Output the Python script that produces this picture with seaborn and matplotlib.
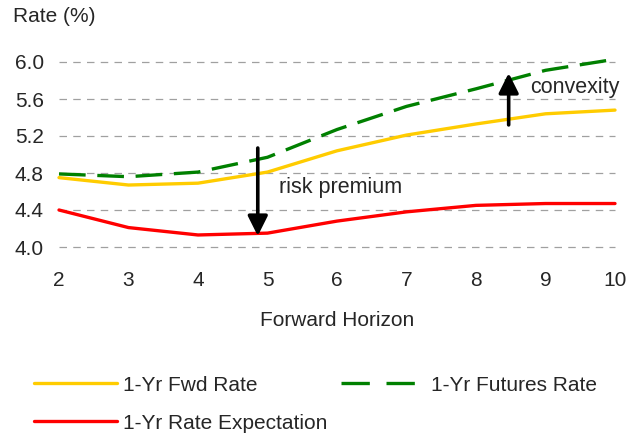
import matplotlib
matplotlib.use("Agg")
import matplotlib.pyplot as plt
import seaborn as sns
import pandas as pd

horizon = [2, 3, 4, 5, 6, 7, 8, 9, 10]
fwd_rate = [4.75, 4.67, 4.69, 4.81, 5.04, 5.21, 5.33, 5.44, 5.48]
futures_rate = [4.79, 4.76, 4.81, 4.97, 5.27, 5.52, 5.71, 5.91, 6.03]
expectation = [4.40, 4.21, 4.13, 4.15, 4.28, 4.38, 4.45, 4.47, 4.47]
y_ticks = [4.0, 4.4, 4.8, 5.2, 5.6, 6.0]

sns.set_style("white")
plt.rcParams['font.family'] = ['Liberation Sans', 'DejaVu Sans']
plt.rcParams['font.size'] = 15

df = pd.DataFrame({'Forward Horizon': horizon * 3,
                   'Rate': fwd_rate + futures_rate + expectation,
                   'Series': ['1-Yr Fwd Rate'] * 9 + ['1-Yr Futures Rate'] * 9 + ['1-Yr Rate Expectation'] * 9})

fig = plt.figure(figsize=(6.37, 4.36), dpi=100)
ax = fig.add_axes([59 / 637, 1 - 247 / 436, (615 - 59) / 637, (247 - 62) / 436])

palette = {'1-Yr Fwd Rate': '#FFCC00', '1-Yr Futures Rate': '#008000', '1-Yr Rate Expectation': '#FF0000'}
dashes = {'1-Yr Fwd Rate': '', '1-Yr Futures Rate': (8, 3.5), '1-Yr Rate Expectation': ''}
sns.lineplot(data=df, x='Forward Horizon', y='Rate', hue='Series', style='Series',
             palette=palette, dashes=dashes, linewidth=2.4, ax=ax, legend=False, clip_on=False, zorder=3)

ax.set_xlim(2, 10)
ax.set_ylim(4.0, 6.0)
ax.set_xticks(horizon)
ax.set_yticks(y_ticks)
ax.set_yticklabels([f'{v:.1f}' for v in y_ticks])
ax.tick_params(axis='x', length=0, labelsize=15, pad=17)
ax.tick_params(axis='y', length=0, labelsize=15, pad=11)
for s in ax.spines.values():
    s.set_visible(False)
for yv in y_ticks:
    ax.axhline(yv, color='#A0A0A0', lw=0.9, ls=(0, (6, 5)), zorder=1, clip_on=False)
ax.set_xlabel('Forward Horizon', fontsize=15)
ax.xaxis.set_label_coords(0.5, (247 - 320) / 185)
ax.xaxis.label.set_va('center')
ax.set_ylabel('')
fig.text(13 / 637, 1 - 17 / 436, 'Rate (%)', fontsize=15, va='center', ha='left')

# annotations
ax.annotate('', xy=(4.86, 4.12), xytext=(4.86, 5.07),
            arrowprops=dict(arrowstyle='-|>', color='black', lw=2.6, mutation_scale=30,
                            shrinkA=0, shrinkB=0), zorder=4)
ax.text(5.17, 4.64, 'risk premium', fontsize=15.5, va='center', ha='left')
ax.annotate('', xy=(8.47, 5.88), xytext=(8.47, 5.32),
            arrowprops=dict(arrowstyle='-|>', color='black', lw=2.6, mutation_scale=30,
                            shrinkA=0, shrinkB=0), zorder=4)
ax.text(8.78, 5.72, 'convexity', fontsize=15.5, va='center', ha='left')

handles = [plt.Line2D([], [], color='#FFCC00', lw=2.4),
           plt.Line2D([], [], color='#FF0000', lw=2.4),
           plt.Line2D([], [], color='#008000', lw=2.4, dashes=(8.5, 5))]
labels = ['1-Yr Fwd Rate', '1-Yr Rate Expectation', '1-Yr Futures Rate']
fig.legend(handles, labels, ncol=2, loc='upper left', bbox_to_anchor=(15 / 637, 1 - 357 / 436),
           frameon=False, handlelength=4.0, handletextpad=0.3, columnspacing=0.65,
           labelspacing=0.9, fontsize=15)

fig.savefig('out.png', dpi=100)
